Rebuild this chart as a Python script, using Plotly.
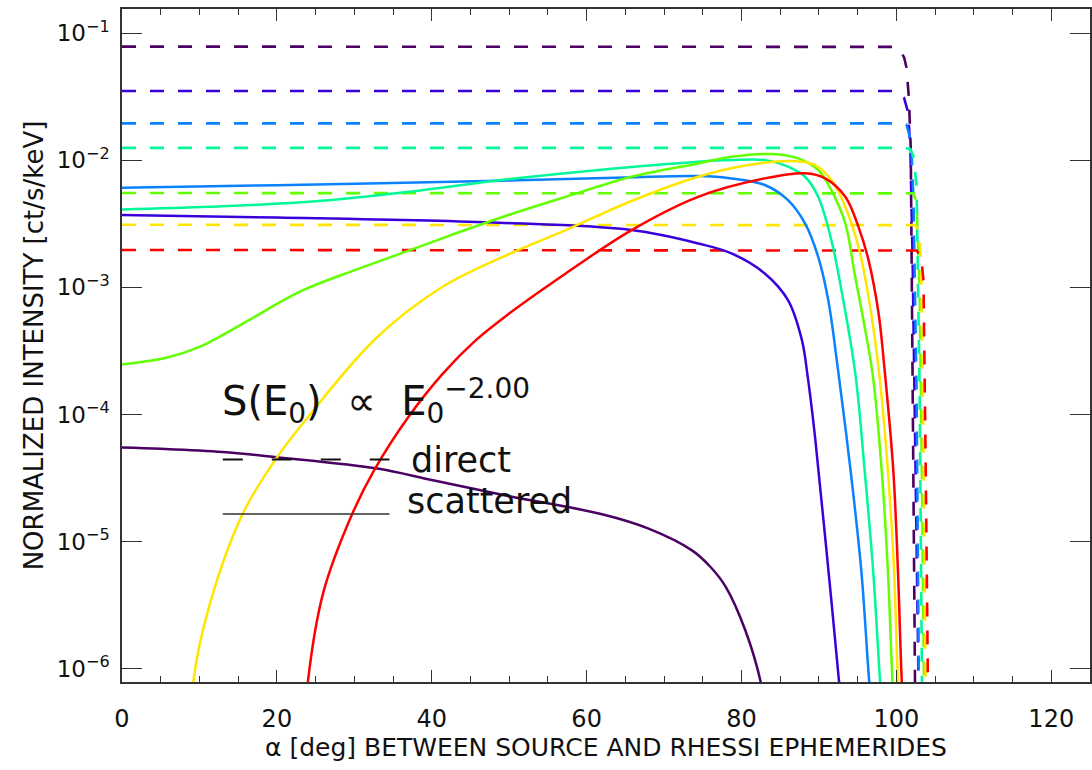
import numpy as np
import plotly.graph_objects as go

# ---------------- data ----------------
colors = ["#4b0063", "#3a00dc", "#0a82ff", "#00f898", "#62ff00", "#ffe600", "#ff0000"]

# direct (dashed) components: alpha [deg] and log10 intensity
direct_x = [
    [0, 99.0, 99.8, 100.4, 101.0, 101.3, 101.6, 101.85, 102.0, 102.2, 102.4, 102.5],
    [0, 99.5, 100.4, 101.0, 101.5, 101.8, 102.1, 102.5, 102.8, 102.9],
    [0, 100.5, 101.3, 101.9, 102.2, 102.6, 102.9, 103.0],
    [0, 100.8, 101.8, 102.2, 102.6, 103.0, 103.3, 103.4],
    [0, 101.0, 102.2, 102.6, 103.0, 103.3, 103.5, 103.6],
    [0, 101.0, 102.4, 102.9, 103.2, 103.5, 103.7, 103.8],
    [0, 101.0, 102.6, 103.2, 103.5, 103.8, 104.0, 104.1],
]
direct_log10 = [
    [-1.105, -1.105, -1.107, -1.13, -1.19, -1.27, -1.5, -1.9, -3.1, -4.6, -6.1, -6.3],
    [-1.454, -1.454, -1.467, -1.51, -1.62, -1.9, -2.8, -4.5, -6.1, -6.3],
    [-1.709, -1.709, -1.72, -1.85, -2.3, -3.8, -6.1, -6.3],
    [-1.902, -1.902, -1.91, -1.97, -2.2, -3.8, -6.1, -6.3],
    [-2.257, -2.257, -2.26, -2.33, -3.0, -4.5, -6.1, -6.3],
    [-2.507, -2.507, -2.51, -2.55, -2.8, -4.2, -6.1, -6.3],
    [-2.705, -2.705, -2.71, -2.76, -2.95, -4.5, -6.1, -6.3],
]

# scattered (solid) components
scat_x = [
    [0, 5, 13, 20, 33, 40, 50, 62, 68, 73.6, 76, 78, 80.5, 82.5, 83],
    [0, 20, 48.7, 65.8, 74.4, 78.7, 83.0, 86.0, 87.8, 88.5, 89.5, 90.8, 92.6, 93],
    [0, 20, 48.7, 65, 74.4, 78.7, 83.0, 86.0, 88.2, 89.9, 91.2, 92.4, 94.2, 95.5, 96.5, 97],
    [0, 11.3, 24.2, 37.1, 49, 61.6, 74.4, 78.7, 83.0, 86.0, 88.2, 89.9, 91.6, 92.9, 94.7, 95.9, 97.0, 97.9, 98.3],
    [0, 5.7, 10.0, 16.4, 22.9, 30.6, 37.1, 43.5, 50.0, 57.3, 65.8, 74.4, 78.7, 83.9, 87.3, 89.9, 91.6,
     93.4, 94.6, 95.9, 96.95, 98.1, 98.9, 99.5, 99.8],
    [9.0, 9.2, 11.3, 15.6, 19.9, 24.2, 32.8, 41.4, 50.0, 57.3, 65.8, 74.4, 80.9, 86.5, 89.5, 91.6,
     93.4, 95.1, 96.4, 97.8, 98.9, 99.7, 100.2, 100.5],
    [23.7, 24.0, 26.0, 29.75, 32.55, 37.0, 41.4, 45.7, 50.0, 57.3, 65.8, 74.4, 83.0, 88.2, 90.8, 93.4, 95.1,
     96.4, 97.7, 98.4, 99.6, 100.2, 100.7, 101.0],
]
scat_log10 = [
    [-4.26, -4.27, -4.295, -4.336, -4.425, -4.516, -4.643, -4.785, -4.898, -5.069, -5.2, -5.36, -5.70, -6.11, -6.3],
    [-2.431, -2.45, -2.491, -2.549, -2.654, -2.732, -2.890, -3.100, -3.415, -3.68, -4.18, -4.964, -6.106, -6.4],
    [-2.216, -2.195, -2.161, -2.135, -2.124, -2.142, -2.194, -2.313, -2.496, -2.759, -3.10, -3.62, -4.50,
     -5.25, -6.106, -6.4],
    [-2.386, -2.365, -2.326, -2.247, -2.155, -2.076, -2.011, -1.998, -1.998, -2.050, -2.129, -2.287, -2.628,
     -3.021, -3.68, -4.44, -5.23, -6.106, -6.4],
    [-3.606, -3.554, -3.468, -3.257, -3.035, -2.852, -2.709, -2.566, -2.428, -2.287, -2.129, -2.024, -1.972,
     -1.950, -1.984, -2.076, -2.234, -2.496, -2.890, -3.31, -3.69, -4.44, -5.23, -6.106, -6.4],
    [-6.4, -6.106, -5.50, -4.78, -4.347, -4.006, -3.40, -2.995, -2.737, -2.549, -2.32, -2.129,
     -2.037, -2.006, -2.037, -2.155, -2.365, -2.680, -3.074, -3.69, -4.44, -5.23, -6.106, -6.4],
    [-6.4, -6.106, -5.40, -4.78, -4.44, -4.018, -3.68, -3.415, -3.205, -2.890, -2.549, -2.287, -2.142, -2.102,
     -2.142, -2.287, -2.523, -2.785, -3.205, -3.60, -4.44, -5.23, -6.106, -6.4],
]

x_ticks = [0, 20, 40, 60, 80, 100, 120]
y_tick_exps = [-1, -2, -3, -4, -5, -6]
y_tick_text = ["10<sup>\u2212%d</sup>" % (-e) for e in y_tick_exps]

x_title = "\u03b1 [deg] BETWEEN SOURCE AND RHESSI EPHEMERIDES"
y_title = "NORMALIZED INTENSITY [ct/s/keV]"
spectrum_label = "S(E<sub>0</sub>)\u00a0\u00a0\u221d\u00a0\u00a0E<sub>0</sub><sup>\u22122.00</sup>"

# ---------------- figure ----------------
FONT = "DejaVu Sans"
W, H = 1092, 770
ML, MR, MT, MB = 122, 0, 9, 88

fig = go.Figure()
for c, xs, ls in zip(colors, direct_x, direct_log10):
    fig.add_trace(go.Scatter(x=xs, y=10 ** np.array(ls), mode="lines",
                             line=dict(color=c, width=2.6, dash="14px,14px"),
                             showlegend=False, hoverinfo="skip"))
for c, xs, ls in zip(colors, scat_x, scat_log10):
    fig.add_trace(go.Scatter(x=xs, y=10 ** np.array(ls), mode="lines",
                             line=dict(color=c, width=2.5, shape="spline", smoothing=1.0),
                             showlegend=False, hoverinfo="skip"))

pw, ph = W - ML - MR, H - MT - MB
def px(xp):
    return (xp - ML) / pw
def py(yp):
    return (H - MB - yp) / ph

axis_col = "#333333"
fig.update_layout(
    width=W, height=H,
    margin=dict(l=ML, r=MR, t=MT, b=MB),
    paper_bgcolor="white", plot_bgcolor="white",
    font=dict(family=FONT, color="#111111"),
    xaxis=dict(range=[0, 125], tickvals=x_ticks, ticks="inside", ticklen=12, tickwidth=1.3,
               tickcolor=axis_col, showline=True, linecolor=axis_col, linewidth=1.5,
               mirror="allticks", showgrid=False, zeroline=False,
               tickfont=dict(size=24, family=FONT), ticklabelstandoff=14,
               minor=dict(dtick=5, ticks="inside", ticklen=6, tickcolor=axis_col, tickwidth=1.1, showgrid=False),
               title=dict(text=x_title, font=dict(size=25, family=FONT), standoff=5)),
    yaxis=dict(type="log", range=[-6.105, -0.809], tickvals=[10.0 ** e for e in y_tick_exps],
               ticktext=y_tick_text, ticks="inside", ticklen=20, tickwidth=1.3, tickcolor=axis_col,
               showline=True, linecolor=axis_col, linewidth=1.5, mirror="allticks",
               showgrid=False, zeroline=False,
               tickfont=dict(size=23, family=FONT), ticklabelstandoff=6,
               title=dict(text=y_title, font=dict(size=26, family=FONT), standoff=6)),
)

fig.add_annotation(xref="paper", yref="paper", x=px(220), y=py(401), xanchor="left", yanchor="middle",
                   text=spectrum_label, showarrow=False, font=dict(size=40, family=FONT, color="#111"))
fig.add_annotation(xref="paper", yref="paper", x=px(410), y=py(460), xanchor="left", yanchor="middle",
                   text="direct", showarrow=False, font=dict(size=35, family=FONT, color="#111"))
fig.add_annotation(xref="paper", yref="paper", x=px(406), y=py(501), xanchor="left", yanchor="middle",
                   text="scattered", showarrow=False, font=dict(size=35, family=FONT, color="#111"))
fig.add_shape(type="line", xref="paper", yref="paper", x0=px(223), x1=px(390), y0=py(459.5), y1=py(459.5),
              line=dict(color="#111", width=2.2, dash="20px,29px"))
fig.add_shape(type="line", xref="paper", yref="paper", x0=px(223), x1=px(390), y0=py(514), y1=py(514),
              line=dict(color="#333", width=1.5))

fig.write_html("out.html")
